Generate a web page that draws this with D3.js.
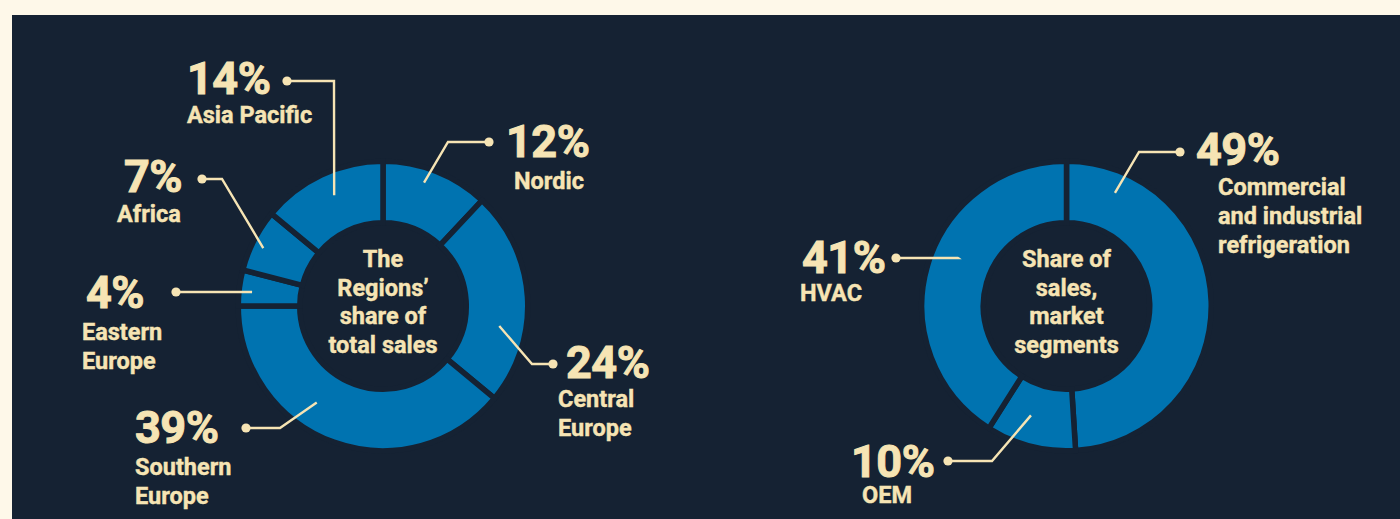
<!DOCTYPE html>
<html>
<head>
<meta charset="utf-8">
<script src="https://cdn.jsdelivr.net/npm/d3@7"></script>
<style>
  html, body { margin: 0; padding: 0; background: #fef8e9; }
  svg { display: block; }
  text { font-family: Roboto, "Noto Sans", sans-serif; font-weight: 700; fill: #f6e4b4; stroke: #f6e4b4; paint-order: stroke; }
</style>
</head>
<body>
<svg id="chart" width="1400" height="519"></svg>
<script>
// ---------- DATA ----------
const regionNames   = ["Nordic", "Central Europe", "Southern Europe", "Eastern Europe", "Africa", "Asia Pacific"];
const regionValues  = [12, 24, 39, 4, 7, 14];
const regionTitle   = ["The", "Regions’", "share of", "total sales"];

const segmentNames  = ["Commercial and industrial refrigeration", "OEM", "HVAC"];
const segmentValues = [49, 10, 41];
const segmentTitle  = ["Share of", "sales,", "market", "segments"];

// name line breaks used in the labels
const regionNameLines  = [["Nordic"], ["Central", "Europe"], ["Southern", "Europe"], ["Eastern", "Europe"], ["Africa"], ["Asia Pacific"]];
const segmentNameLines = [["Commercial", "and industrial", "refrigeration"], ["OEM"], ["HVAC"]];

// ---------- LAYOUT (annotation geometry, relative to donut centre) ----------
const W = 1400, H = 519;
const COLORS = { page: "#fef8e9", panel: "#152233", slice: "#0073b0", ink: "#f6e4b4" };
const PANEL = { x: 12, y: 15 };
const GAP = 5.5;
const R_OUT = 142 + GAP / 2, R_IN = 86 - GAP / 2;
const centres = [[383, 306], [1066.5, 306]];

// leader: start [angleDeg, radius], elbow [dx,dy], dot [dx,dy]; pct text pos [dx,dy]; name pos [dx,dy]
const regionLayout = [
  { start: [18.4, 130], elbow: [65, -164], dot: [106, -164], pct: [123, -149], name: [131, -117] },
  { start: [99.8, 118], elbow: [149, 58],  dot: [170, 58],   pct: [183, 72],   name: [175, 101] },
  { start: [214.5,117], elbow: [-103, 122],dot: [-137, 122], pct: [-248, 137], name: [-248, 169] },
  { start: [276.1,132], elbow: [-131, -14],dot: [-207, -14], pct: [-297, 2],   name: [-301, 34] },
  { start: [295.8,133], elbow: [-161, -127],dot:[-181, -127],pct: [-259, -114],name: [-266, -84] },
  { start: [336.2,121], elbow: [-49, -225],dot: [-96, -225], pct: [-196, -212],name: [-196, -183] }
];
const segmentLayout = [
  { start: [23.2, 123], elbow: [72.5, -154], dot: [113.5, -154], pct: [129.5, -141], name: [151.5, -111] },
  { start: [198, 115],  elbow: [-74.5, 155], dot: [-118.5, 155], pct: [-215.5, 171], name: [-204.5, 197] },
  { start: [293.9, 119],elbow: [-108.5, -48],dot: [-170.5, -48], pct: [-264.5, -33], name: [-266.5, -5] }
];

const PCT_SIZE = 45, NAME_SIZE = 23.5, TITLE_SIZE = 23.5, LINE_H = 29;

// ---------- DRAW ----------
const svg = d3.select("#chart");
svg.append("rect").attr("width", W).attr("height", H).attr("fill", COLORS.page);
svg.append("rect").attr("x", PANEL.x).attr("y", PANEL.y)
   .attr("width", W - PANEL.x).attr("height", H - PANEL.y).attr("fill", COLORS.panel);

const pie = d3.pie().sort(null).value(d => d);
const arc = d3.arc().innerRadius(R_IN).outerRadius(R_OUT);

function polar(angleDeg, r) {
  const a = angleDeg * Math.PI / 180;
  return [Math.sin(a) * r, -Math.cos(a) * r];
}

function donut(centre, values, nameLines, layout, title) {
  const g = svg.append("g").attr("transform", `translate(${centre[0]},${centre[1]})`);
  const arcs = pie(values);

  g.selectAll("path.slice").data(arcs).join("path")
    .attr("class", "slice")
    .attr("d", arc)
    .attr("fill", COLORS.slice)
    .attr("stroke", COLORS.panel)
    .attr("stroke-width", GAP)
    .attr("stroke-linejoin", "miter");

  // centre title
  const t = g.append("text").attr("text-anchor", "middle").attr("font-size", TITLE_SIZE)
    .attr("stroke-width", 0.4);
  title.forEach((line, i) => {
    t.append("tspan").attr("x", 0).attr("y", -39 + i * 28.5).text(line);
  });

  // annotations
  arcs.forEach((a, i) => {
    const L = layout[i];
    const s = polar(L.start[0], L.start[1]);
    g.append("polyline")
      .attr("points", [s, L.elbow, L.dot].map(p => p.join(",")).join(" "))
      .attr("fill", "none").attr("stroke", COLORS.ink).attr("stroke-width", 2.4);
    g.append("circle").attr("cx", L.dot[0]).attr("cy", L.dot[1]).attr("r", 4.6).attr("fill", COLORS.ink);
    g.append("text").attr("x", L.pct[0]).attr("y", L.pct[1])
      .attr("font-size", PCT_SIZE).attr("stroke-width", 1).attr("letter-spacing", -0.5)
      .text(d3.format("d")(values[i]) + "%");
    const nt = g.append("text").attr("font-size", NAME_SIZE).attr("stroke-width", 0.4);
    nameLines[i].forEach((line, j) => {
      nt.append("tspan").attr("x", L.name[0]).attr("y", L.name[1] + j * LINE_H).text(line);
    });
  });
}

donut(centres[0], regionValues, regionNameLines, regionLayout, regionTitle);
donut(centres[1], segmentValues, segmentNameLines, segmentLayout, segmentTitle);
</script>
</body>
</html>
